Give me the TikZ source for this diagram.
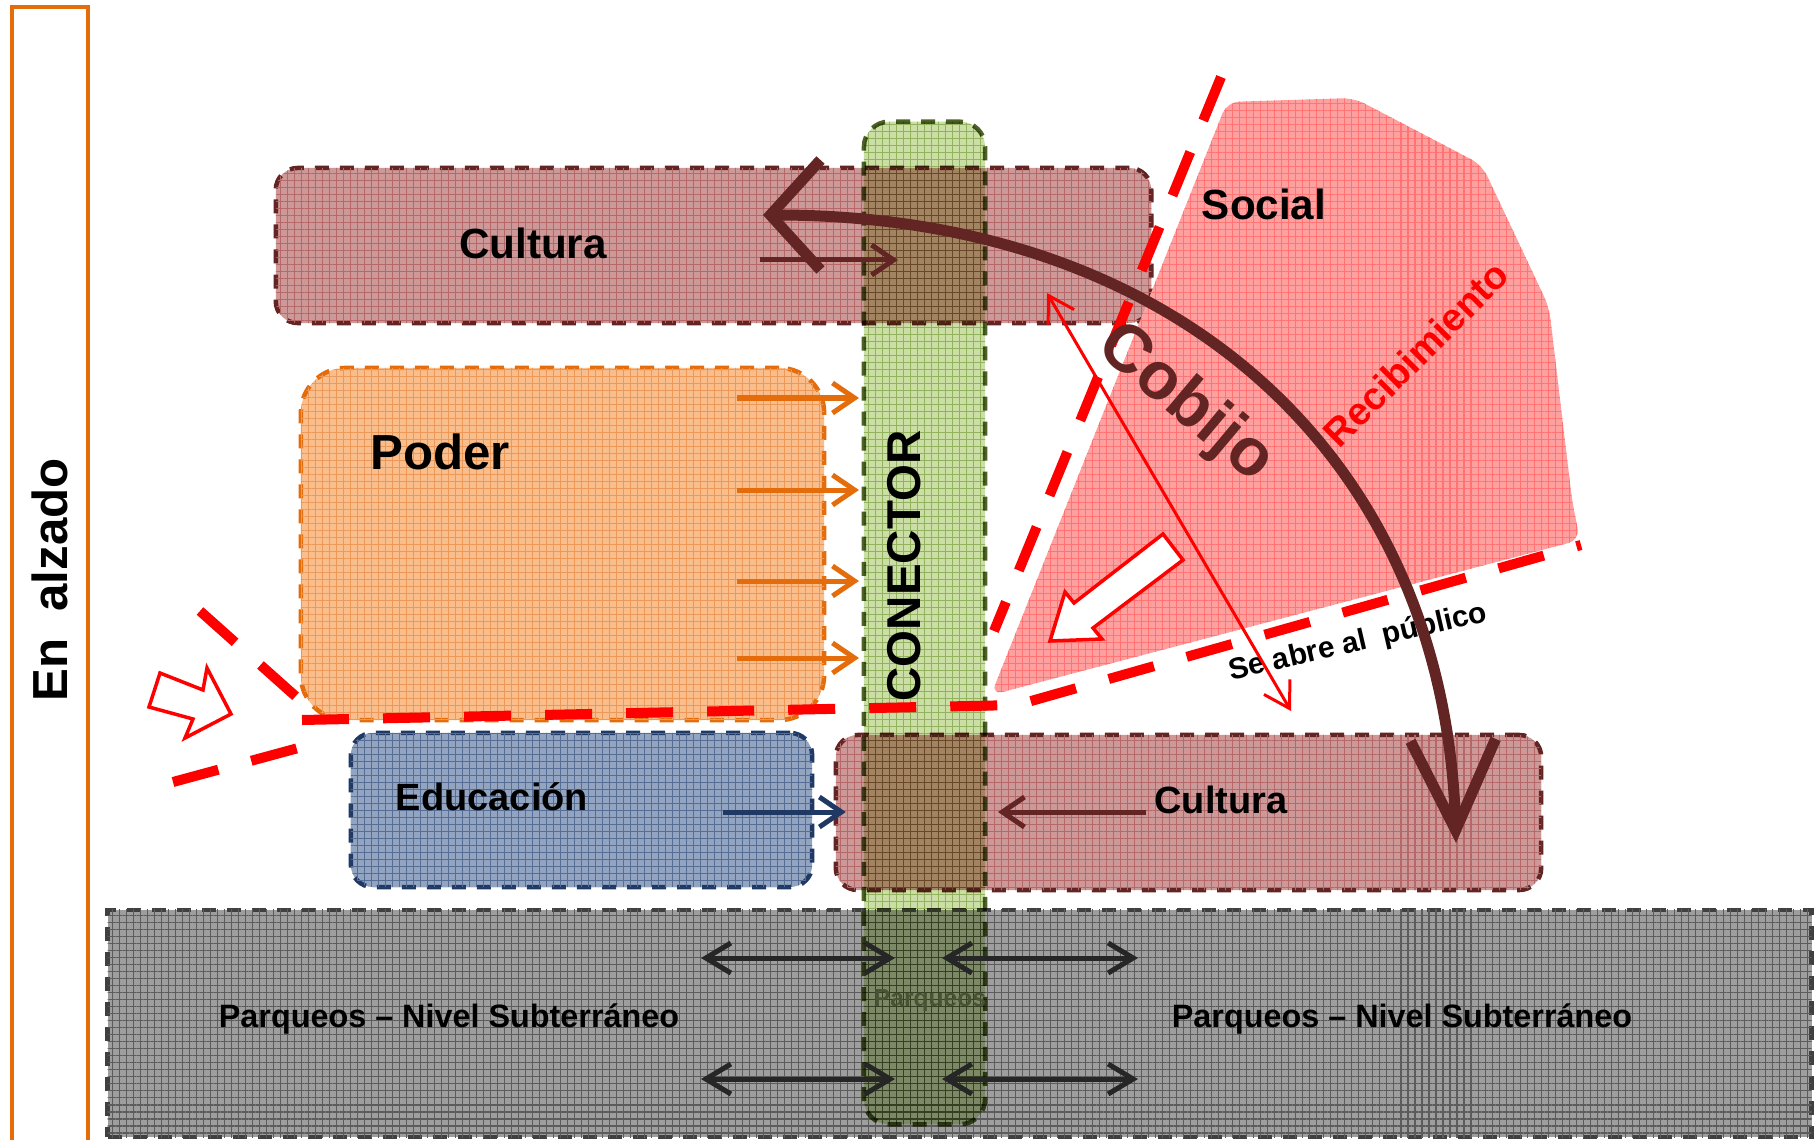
\documentclass[tikz,border=0pt]{standalone}
\usepackage{fontspec}
\setmainfont{Liberation Sans}
\usetikzlibrary{arrows.meta,positioning,patterns.meta}
\definecolor{cult}{RGB}{204,152,152}
\definecolor{cultln}{RGB}{99,37,35}
\definecolor{cultgrid}{RGB}{182,104,104}
\definecolor{con}{RGB}{203,222,165}
\definecolor{conln}{RGB}{79,98,40}
\definecolor{congrid}{RGB}{185,205,145}
\definecolor{pod}{RGB}{249,190,140}
\definecolor{podln}{RGB}{228,108,10}
\definecolor{podgrid}{RGB}{236,152,88}
\definecolor{edu}{RGB}{146,164,192}
\definecolor{eduln}{RGB}{31,56,100}
\definecolor{edugrid}{RGB}{86,110,150}
\definecolor{park}{RGB}{158,158,158}
\definecolor{parkln}{RGB}{64,64,64}
\definecolor{parkgrid}{RGB}{92,92,92}
\definecolor{recib}{RGB}{255,160,160}
\definecolor{recgrid}{RGB}{255,115,115}
\definecolor{dgray}{RGB}{38,38,38}
\definecolor{parktx}{RGB}{72,82,52}

\tikzset{
  zone/.style={draw, line width=0.045cm, dash pattern=on 0.14cm off 0.11cm,
    rounded corners=0.22cm, inner sep=0pt, outer sep=0pt},
  gridfill/.style={postaction={pattern={Hatch[distance=0.07cm,line width=0.3pt]},
    pattern color=#1}},
  reddash/.style={draw=red, line width=0.1cm, dash pattern=on 0.47cm off 0.34cm},
  hollow/.style={draw=red, line width=0.035cm, fill=white},
  podarr/.style={draw=podln, line width=0.05cm, ->, >={Straight Barb[length=0.22cm,width=0.3cm]}},
  eduarr/.style={podarr, draw=eduln},
  cultarr/.style={podarr, draw=cultln},
  parkarr/.style={draw=dgray, line width=0.05cm, <->, >={Straight Barb[length=0.25cm,width=0.3cm]}},
  redarr/.style={draw=red, line width=0.03cm, <->, >={Straight Barb[length=0.25cm,width=0.3cm]}},
  cobarr/.style={draw=cultln, line width=0.11cm,
    {Straight Barb[length=0.5cm,width=1.1cm]}-{Straight Barb[length=0.9cm,width=0.85cm]}},
  lbl/.style={font=\fontsize{#1}{#1}\selectfont\bfseries}
}

\begin{document}
\begin{tikzpicture}[x=0.01cm, y=-0.01cm]
  \useasboundingbox (0,0) rectangle (1816,1140);

  % frame at the left
  \node[draw=podln, line width=0.045cm, rotate=90, minimum width=11.45cm,
    minimum height=0.76cm, inner sep=0pt, lbl=14] (alz) at (50,580) {En\ \ alzado};

  % zones
  \node[zone, draw=parkln, fill=park, gridfill=parkgrid, rounded corners=0pt,
    minimum width=17.03cm, minimum height=2.27cm] (park) at (959.5,1023.5) {};
  \node[zone, draw=cultln, fill=cult, gridfill=cultgrid,
    minimum width=8.75cm, minimum height=1.55cm] (cultA) at (713.5,245.5) {};
  \node[zone, draw=podln, fill=pod, gridfill=podgrid, rounded corners=0.45cm,
    minimum width=5.23cm, minimum height=3.52cm] (poder) at (562.5,544) {};
  \node[zone, draw=eduln, fill=edu, gridfill=edugrid,
    minimum width=4.61cm, minimum height=1.54cm] (edu) at (581.5,810) {};
  \node[zone, draw=cultln, fill=cult, gridfill=cultgrid,
    minimum width=7.05cm, minimum height=1.55cm] (cultB) at (1188.5,812.5) {};

  % recibimiento
  \fill[recib, gridfill=recgrid, rounded corners=0.12cm] (1227,102) -- (1354,98)
    -- (1482,165) -- (1549,307) -- (1572,500) -- (1580,540) -- (991,695) -- cycle;

  \begin{scope}[blend mode=multiply]
    \node[zone, draw=conln, fill=con, gridfill=congrid, rounded corners=0.25cm,
      minimum width=1.21cm, minimum height=10.02cm] (con) at (924.5,623) {};
  \end{scope}

  % limits
  \draw[reddash] (1221,77) -- (994,631);
  \draw[reddash] (200,611) -- (302,702);
  \draw[reddash] (173,782) -- (302,747);
  \draw[reddash] (302,720) -- (1017,705) -- (1581,545);

  % labels
  \node[lbl=12] (tcultA) at (533,243) {Cultura};
  \node[lbl=12] (tsoc) at (1264,204) {Social};
  \node[lbl=14] (tpod) at (440,452) {Poder};
  \node[lbl=10.8] (tedu) at (492,797) {Educación};
  \node[lbl=10.8] (tcultB) at (1221,800) {Cultura};
  \node[lbl=13.5, rotate=90] (tcon) at (904,566) {CONECTOR};
  \node[lbl=9.2] (tparkA) at (449,1019) {Parqueos – Nivel Subterráneo};
  \node[lbl=9.2] (tparkB) at (1402,1019) {Parqueos – Nivel Subterráneo};
  \node[lbl=7, text=parktx] (tparkC) at (930,1001) {Parqueos};
  \node[lbl=19, text=cultln, rotate=-40] (tcob) at (1185,404) {Cobijo};
  \node[lbl=11, text=red, rotate=45] (trec) at (1416,354) {Recibimiento};
  \node[lbl=8.5, rotate=13] (tpub) at (1358,643) {Se abre al\ \ público};

  % connections
  \foreach \y [count=\i] in {398,490,581,658} {
    \coordinate (po\i) at (737,\y);
    \draw[podarr, shorten >=0.05cm] (po\i) -- (po\i -| con.west);
  }
  \coordinate (ed) at (723,812);
  \draw[eduarr, shorten >=-0.1cm] (ed) -- (ed -| cultB.west);
  \coordinate (cb) at (1146,812);
  \coordinate (cb2) at (998,812);
  \draw[cultarr] (cb) -- (cb2);
  \coordinate (ca) at (760,260);
  \coordinate (ca2) at (898,260);
  \draw[cultarr] (ca) -- (ca2);

  \foreach \y [count=\i] in {958,1079} {
    \coordinate (pl\i) at (701,\y);
    \coordinate (pm\i) at (895,\y);
    \coordinate (pn\i) at (942,\y);
    \coordinate (pr\i) at (1138,\y);
    \draw[parkarr] (pl\i) -- (pm\i);
    \draw[parkarr] (pn\i) -- (pr\i);
  }

  \coordinate (ra) at (1047,293);
  \coordinate (rb) at (1291,711);
  \draw[redarr] (ra) -- (rb);

  % open arrows
  \draw[hollow] (160,673) -- (203,690) -- (207,668) -- (231,714) -- (185,738)
    -- (193,719) -- (149,707) -- cycle;
  \draw[hollow] (1163,534) -- (1183,560) -- (1093,628) -- (1102,639) -- (1050,641)
    -- (1065,592) -- (1074,603) -- cycle;

  % cobijo
  \coordinate (cobA) at (763,215);
  \coordinate (cobB) at (1456,843);
  \draw[cobarr] (cobA) .. controls (1178,215) and (1445,458) .. (cobB);
\end{tikzpicture}
\end{document}
